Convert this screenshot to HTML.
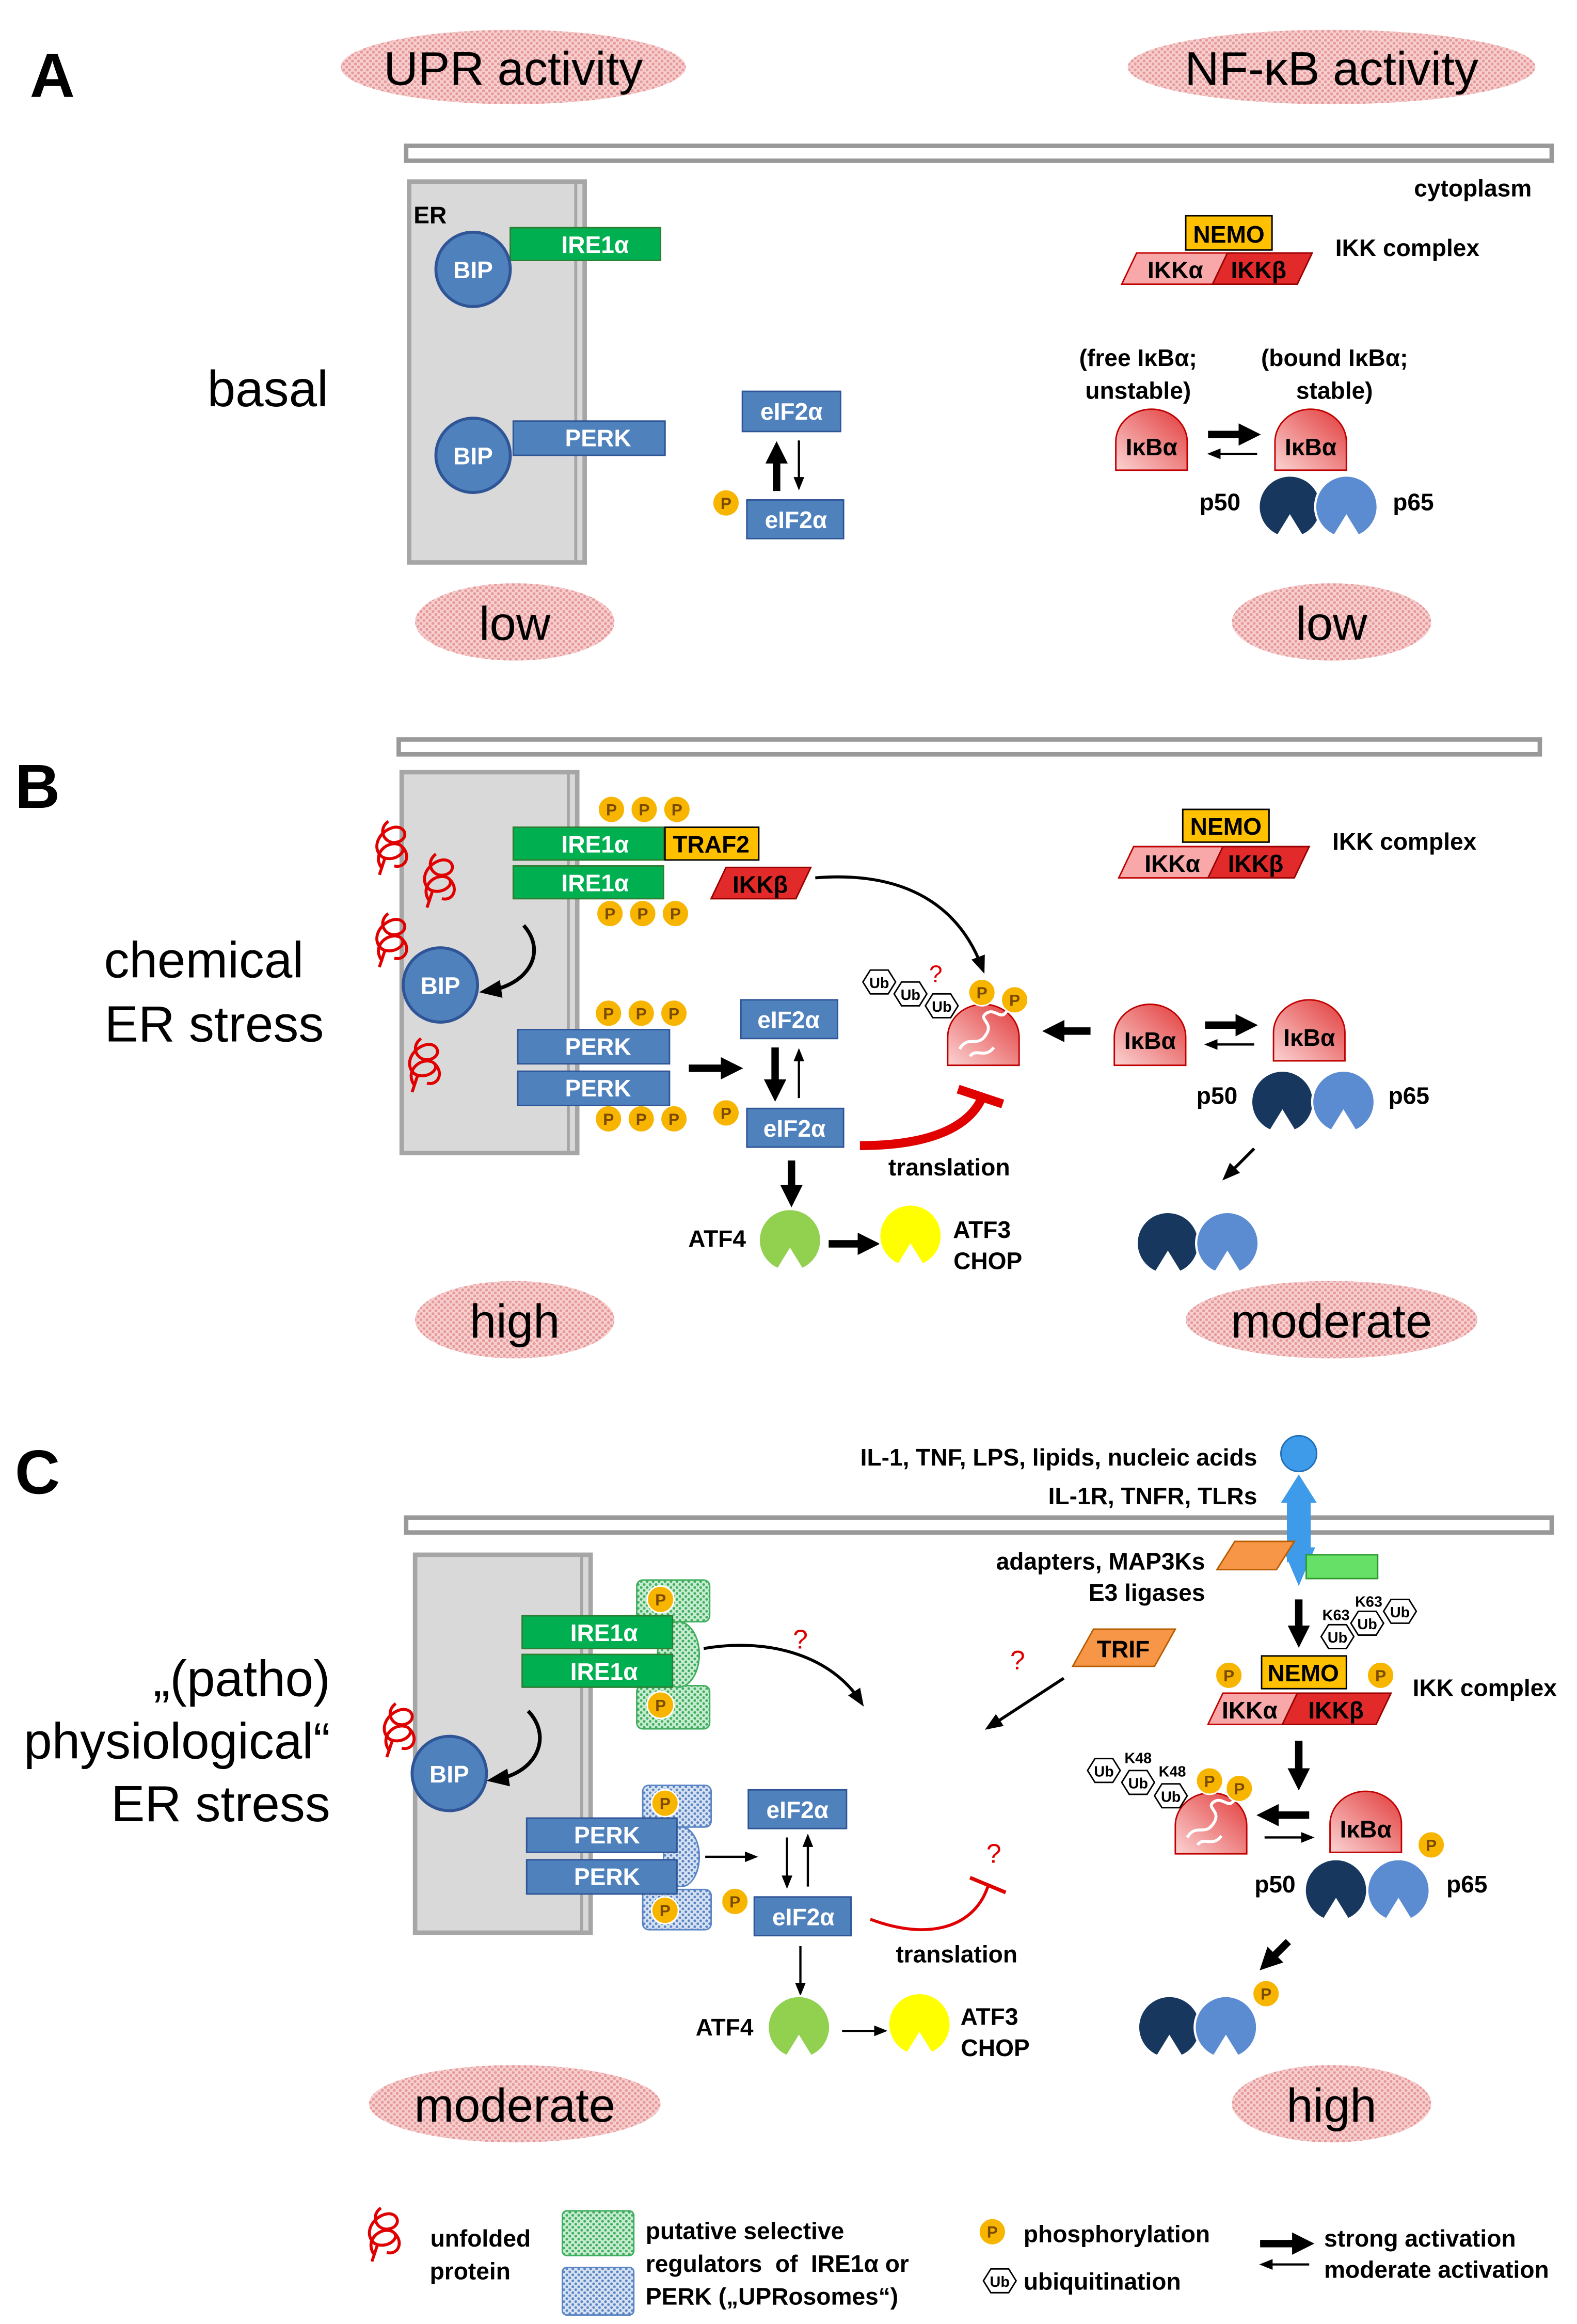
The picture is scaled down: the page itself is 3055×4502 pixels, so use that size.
<!DOCTYPE html>
<html><head><meta charset="utf-8">
<style>
html,body{margin:0;padding:0;background:#fff}
svg{display:block}
text{font-family:"Liberation Sans",Arial,sans-serif}
.b{font-weight:bold;font-size:16px}
.w{fill:#fff;font-weight:bold;font-size:16px}
.pt{font-weight:bold;font-size:11px;fill:#7a4a00}
.big{font-size:34px}
</style></head><body>
<svg width="3055" height="4502" viewBox="0 0 1060 1562" xmlns="http://www.w3.org/2000/svg">
<defs>
<pattern id="pk" width="4" height="4" patternUnits="userSpaceOnUse"><rect width="4" height="4" fill="#f6d0d0"/><circle cx="1" cy="1" r="1" fill="#e89a9a"/><circle cx="3" cy="3" r="1" fill="#e89a9a"/></pattern>
<pattern id="gd" width="4" height="4" patternUnits="userSpaceOnUse"><rect width="4" height="4" fill="#c8ecd2"/><circle cx="1" cy="1" r="0.9" fill="#3fae5e"/><circle cx="3" cy="3" r="0.9" fill="#3fae5e"/></pattern>
<pattern id="bd" width="4" height="4" patternUnits="userSpaceOnUse"><rect width="4" height="4" fill="#d6e2f2"/><circle cx="1" cy="1" r="0.9" fill="#5b85c4"/><circle cx="3" cy="3" r="0.9" fill="#5b85c4"/></pattern>
<linearGradient id="rg" x1="0" y1="1" x2="1" y2="0"><stop offset="0" stop-color="#fbd3d3"/><stop offset="1" stop-color="#e23a3a"/></linearGradient>
<marker id="ah" viewBox="0 0 10 10" refX="5" refY="5" markerWidth="3" markerHeight="3" orient="auto"><path d="M0,0 L10,5 L0,10 Z" fill="#000"/></marker>
<marker id="at" viewBox="0 0 10 10" refX="6" refY="5" markerWidth="6" markerHeight="6" orient="auto"><path d="M0,1 L10,5 L0,9 Z" fill="#000"/></marker>
<symbol id="pac" overflow="visible"><path d="M-8,20 A21,21 0 1 1 8,20 L0,7 Z" stroke="#fff" stroke-width="1.5"/></symbol>
<symbol id="dome" overflow="visible"><path d="M-24,19 L-24,0 A24,22 0 0 1 24,0 L24,19 Z" fill="url(#rg)" stroke="#c00000" stroke-width="1"/></symbol>
<symbol id="pc" overflow="visible"><circle r="9" fill="#f7b500" stroke="#fff" stroke-width="1"/></symbol>
<symbol id="ub" overflow="visible"><path d="M-11,0 L-6,-8 L6,-8 L11,0 L6,8 L-6,8 Z" fill="#fff" stroke="#000" stroke-width="1"/></symbol>
<symbol id="unf" overflow="visible"><path d="M-6,14 C-14,4 -2,-6 6,-2 C12,2 2,10 -6,6 C-14,0 -8,-12 2,-14 C10,-15 12,-6 4,-4 C-4,-2 -10,-12 -2,-18 M6,-2 C14,4 10,14 2,12 M-4,6 L-8,18" fill="none" stroke="#e00000" stroke-width="2"/></symbol>
</defs>

<!-- ===== Panel A ===== -->
<text x="20" y="65" font-size="42" font-weight="bold">A</text>
<ellipse cx="345" cy="45" rx="116" ry="25" fill="url(#pk)"/>
<text x="345" y="57" font-size="32" text-anchor="middle">UPR activity</text>
<ellipse cx="895" cy="45" rx="137" ry="25" fill="url(#pk)"/>
<text x="895" y="57" font-size="32" text-anchor="middle">NF-κB activity</text>
<rect x="273" y="98" width="770" height="10" fill="#fff" stroke="#999" stroke-width="3"/>
<rect x="275" y="122" width="118" height="256" fill="#d9d9d9" stroke="#a6a6a6" stroke-width="3"/>
<line x1="387" y1="122" x2="387" y2="378" stroke="#a6a6a6" stroke-width="2"/>
<text x="278" y="150" class="b">ER</text>
<rect x="343" y="153" width="101" height="22" fill="#00b050" stroke="#2e7d32"/>
<text x="400" y="170" class="w" text-anchor="middle">IRE1α</text>
<circle cx="318" cy="181" r="25" fill="#4f81bd" stroke="#2f5597" stroke-width="2"/>
<text x="318" y="187" class="w" text-anchor="middle">BIP</text>
<rect x="345" y="283" width="102" height="23" fill="#4f81bd" stroke="#2f5597"/>
<text x="402" y="300" class="w" text-anchor="middle">PERK</text>
<circle cx="318" cy="306" r="25" fill="#4f81bd" stroke="#2f5597" stroke-width="2"/>
<text x="318" y="312" class="w" text-anchor="middle">BIP</text>
<text x="180" y="273" font-size="34" text-anchor="middle">basal</text>
<rect x="499" y="263" width="66" height="27" fill="#4f81bd" stroke="#2f5597"/>
<text x="532" y="282" class="w" text-anchor="middle">eIF2α</text>
<rect x="502" y="336" width="65" height="26" fill="#4f81bd" stroke="#2f5597"/>
<text x="535" y="355" class="w" text-anchor="middle">eIF2α</text>
<use href="#pc" x="488" y="338"/><text x="488" y="342" class="pt" text-anchor="middle">P</text>
<line x1="522" y1="330" x2="522" y2="304" stroke="#000" stroke-width="5" marker-end="url(#ah)"/>
<line x1="537" y1="296" x2="537" y2="326" stroke="#000" stroke-width="1.5" marker-end="url(#at)"/>
<text x="990" y="132" class="b" text-anchor="middle">cytoplasm</text>
<rect x="797" y="145" width="58" height="23" fill="#ffc000" stroke="#000"/>
<text x="826" y="163" class="b" text-anchor="middle">NEMO</text>
<polygon points="764,170 830,170 820,191 754,191" fill="#f8a8a8" stroke="#c00000"/>
<text x="790" y="187" class="b" text-anchor="middle">IKKα</text>
<polygon points="825,170 882,170 872,191 815,191" fill="#e22a2a" stroke="#900"/>
<text x="846" y="187" class="b" text-anchor="middle">IKKβ</text>
<text x="946" y="172" class="b" text-anchor="middle">IKK complex</text>
<text x="765" y="246" class="b" text-anchor="middle">(free IκBα;</text>
<text x="765" y="268" class="b" text-anchor="middle">unstable)</text>
<text x="897" y="246" class="b" text-anchor="middle">(bound IκBα;</text>
<text x="897" y="268" class="b" text-anchor="middle">stable)</text>
<use href="#dome" x="774" y="297"/><text x="774" y="306" class="b" text-anchor="middle">IκBα</text>
<use href="#dome" x="881" y="297"/><text x="881" y="306" class="b" text-anchor="middle">IκBα</text>
<line x1="812" y1="292" x2="840" y2="292" stroke="#000" stroke-width="5" marker-end="url(#ah)"/>
<line x1="845" y1="305" x2="815" y2="305" stroke="#000" stroke-width="1.5" marker-end="url(#at)"/>
<use href="#pac" x="867" y="340" fill="#17375e"/>
<use href="#pac" x="905" y="340" fill="#5b8bd0"/>
<text x="820" y="343" class="b" text-anchor="middle">p50</text>
<text x="950" y="343" class="b" text-anchor="middle">p65</text>
<ellipse cx="346" cy="418" rx="67" ry="26" fill="url(#pk)"/>
<text x="346" y="430" font-size="32" text-anchor="middle">low</text>
<ellipse cx="895" cy="418" rx="67" ry="26" fill="url(#pk)"/>
<text x="895" y="430" font-size="32" text-anchor="middle">low</text>

<!-- ===== Panel B ===== -->
<text x="10" y="543" font-size="42" font-weight="bold">B</text>
<rect x="268" y="497" width="767" height="10" fill="#fff" stroke="#999" stroke-width="3"/>
<rect x="270" y="519" width="118" height="256" fill="#d9d9d9" stroke="#a6a6a6" stroke-width="3"/>
<line x1="382" y1="519" x2="382" y2="775" stroke="#a6a6a6" stroke-width="2"/>
<use href="#unf" x="263" y="570"/><use href="#unf" x="295" y="592"/><use href="#unf" x="263" y="632"/><use href="#unf" x="285" y="716"/>
<g>
<use href="#pc" x="411" y="544"/><use href="#pc" x="433" y="544"/><use href="#pc" x="455" y="544"/>
<use href="#pc" x="410" y="614"/><use href="#pc" x="432" y="614"/><use href="#pc" x="454" y="614"/>
<use href="#pc" x="409" y="681"/><use href="#pc" x="431" y="681"/><use href="#pc" x="453" y="681"/>
<use href="#pc" x="409" y="752"/><use href="#pc" x="431" y="752"/><use href="#pc" x="453" y="752"/>
<use href="#pc" x="488" y="748"/>
</g>
<g text-anchor="middle">
<text x="411" y="548" class="pt">P</text><text x="433" y="548" class="pt">P</text><text x="455" y="548" class="pt">P</text>
<text x="410" y="618" class="pt">P</text><text x="432" y="618" class="pt">P</text><text x="454" y="618" class="pt">P</text>
<text x="409" y="685" class="pt">P</text><text x="431" y="685" class="pt">P</text><text x="453" y="685" class="pt">P</text>
<text x="409" y="756" class="pt">P</text><text x="431" y="756" class="pt">P</text><text x="453" y="756" class="pt">P</text>
<text x="488" y="752" class="pt">P</text>
</g>
<rect x="345" y="556" width="101" height="22" fill="#00b050" stroke="#2e7d32"/>
<text x="400" y="573" class="w" text-anchor="middle">IRE1α</text>
<rect x="345" y="582" width="101" height="22" fill="#00b050" stroke="#2e7d32"/>
<text x="400" y="599" class="w" text-anchor="middle">IRE1α</text>
<rect x="447" y="556" width="63" height="22" fill="#ffc000" stroke="#000"/>
<text x="478" y="573" class="b" text-anchor="middle">TRAF2</text>
<polygon points="488,583 545,583 535,604 478,604" fill="#e22a2a" stroke="#900"/>
<text x="511" y="600" class="b" text-anchor="middle">IKKβ</text>
<path d="M548,590 C610,585 645,610 660,650" fill="none" stroke="#000" stroke-width="2" marker-end="url(#at)"/>
<circle cx="296" cy="662" r="25" fill="#4f81bd" stroke="#2f5597" stroke-width="2"/>
<text x="296" y="668" class="w" text-anchor="middle">BIP</text>
<path d="M352,622 C368,640 355,662 328,666" fill="none" stroke="#000" stroke-width="2.5" marker-end="url(#at)"/>
<text x="137" y="657" class="big" text-anchor="middle">chemical</text>
<text x="144" y="700" class="big" text-anchor="middle">ER stress</text>
<rect x="348" y="692" width="102" height="23" fill="#4f81bd" stroke="#2f5597"/>
<text x="402" y="709" class="w" text-anchor="middle">PERK</text>
<rect x="348" y="720" width="102" height="23" fill="#4f81bd" stroke="#2f5597"/>
<text x="402" y="737" class="w" text-anchor="middle">PERK</text>
<line x1="463" y1="718" x2="492" y2="718" stroke="#000" stroke-width="5" marker-end="url(#ah)"/>
<rect x="498" y="672" width="65" height="26" fill="#4f81bd" stroke="#2f5597"/>
<text x="530" y="691" class="w" text-anchor="middle">eIF2α</text>
<rect x="502" y="745" width="65" height="26" fill="#4f81bd" stroke="#2f5597"/>
<text x="534" y="764" class="w" text-anchor="middle">eIF2α</text>
<line x1="521" y1="704" x2="521" y2="733" stroke="#000" stroke-width="5" marker-end="url(#ah)"/>
<line x1="537" y1="738" x2="537" y2="708" stroke="#000" stroke-width="1.5" marker-end="url(#at)"/>
<use href="#dome" x="661" y="697" /><path d="M645,705 c6,-10 12,0 18,-10 c5,-8 -6,-10 0,-14 c6,-4 10,6 14,-2 M652,710 c4,-6 10,2 16,-6" fill="none" stroke="#fff" stroke-width="2"/>
<use href="#ub" x="591" y="660"/><use href="#ub" x="612" y="668"/><use href="#ub" x="633" y="676"/>
<text x="591" y="664" font-size="10" font-weight="bold" text-anchor="middle">Ub</text><text x="612" y="672" font-size="10" font-weight="bold" text-anchor="middle">Ub</text><text x="633" y="680" font-size="10" font-weight="bold" text-anchor="middle">Ub</text>
<use href="#pc" x="660" y="667"/><use href="#pc" x="682" y="672"/>
<text x="660" y="671" class="pt" text-anchor="middle">P</text><text x="682" y="676" class="pt" text-anchor="middle">P</text>
<text x="629" y="660" font-size="16" fill="#e00000" text-anchor="middle">?</text>
<line x1="733" y1="693" x2="708" y2="693" stroke="#000" stroke-width="5" marker-end="url(#ah)"/>
<use href="#dome" x="773" y="697"/><text x="773" y="705" class="b" text-anchor="middle">IκBα</text>
<use href="#dome" x="880" y="694"/><text x="880" y="703" class="b" text-anchor="middle">IκBα</text>
<line x1="810" y1="689" x2="838" y2="689" stroke="#000" stroke-width="5" marker-end="url(#ah)"/>
<line x1="843" y1="702" x2="813" y2="702" stroke="#000" stroke-width="1.5" marker-end="url(#at)"/>
<use href="#pac" x="862" y="740" fill="#17375e"/><use href="#pac" x="903" y="740" fill="#5b8bd0"/>
<text x="818" y="742" class="b" text-anchor="middle">p50</text><text x="947" y="742" class="b" text-anchor="middle">p65</text>
<line x1="843" y1="772" x2="825" y2="790" stroke="#000" stroke-width="2" marker-end="url(#at)"/>
<use href="#pac" x="785" y="835" fill="#17375e"/><use href="#pac" x="825" y="835" fill="#5b8bd0"/>
<path d="M578,770 C620,770 650,760 660,738" fill="none" stroke="#e00000" stroke-width="6"/>
<line x1="644" y1="732" x2="674" y2="742" stroke="#e00000" stroke-width="6"/>
<text x="638" y="790" class="b" text-anchor="middle">translation</text>
<line x1="532" y1="780" x2="532" y2="804" stroke="#000" stroke-width="5" marker-end="url(#ah)"/>
<text x="482" y="838" class="b" text-anchor="middle">ATF4</text>
<use href="#pac" x="531" y="833" fill="#92d050"/>
<line x1="557" y1="836" x2="584" y2="836" stroke="#000" stroke-width="5" marker-end="url(#ah)"/>
<use href="#pac" x="612" y="830" fill="#ffff00"/>
<text x="660" y="832" class="b" text-anchor="middle">ATF3</text><text x="664" y="853" class="b" text-anchor="middle">CHOP</text>
<rect x="795" y="544" width="58" height="22" fill="#ffc000" stroke="#000"/>
<text x="824" y="561" class="b" text-anchor="middle">NEMO</text>
<polygon points="762,569 826,569 816,590 752,590" fill="#f8a8a8" stroke="#c00000"/>
<text x="788" y="586" class="b" text-anchor="middle">IKKα</text>
<polygon points="822,569 880,569 870,590 812,590" fill="#e22a2a" stroke="#900"/>
<text x="844" y="586" class="b" text-anchor="middle">IKKβ</text>
<text x="944" y="571" class="b" text-anchor="middle">IKK complex</text>
<ellipse cx="346" cy="887" rx="67" ry="26" fill="url(#pk)"/>
<text x="346" y="899" font-size="32" text-anchor="middle">high</text>
<ellipse cx="895" cy="887" rx="98" ry="26" fill="url(#pk)"/>
<text x="895" y="899" font-size="32" text-anchor="middle">moderate</text>

<!-- ===== Panel C ===== -->
<text x="10" y="1004" font-size="42" font-weight="bold">C</text>
<rect x="273" y="1020" width="770" height="10" fill="#fff" stroke="#999" stroke-width="3"/>
<rect x="279" y="1045" width="118" height="254" fill="#d9d9d9" stroke="#a6a6a6" stroke-width="3"/>
<line x1="391" y1="1045" x2="391" y2="1299" stroke="#a6a6a6" stroke-width="2"/>
<text x="845" y="985" class="b" text-anchor="end">IL-1, TNF, LPS, lipids, nucleic acids</text>
<text x="845" y="1011" class="b" text-anchor="end">IL-1R, TNFR, TLRs</text>
<circle cx="873" cy="977" r="12" fill="#3d9be9" stroke="#1f6fb8"/>
<polygon points="873,991 885,1010 861,1010" fill="#3d9be9"/>
<rect x="865" y="1010" width="16" height="40" fill="#3d9be9"/>
<polygon points="862,1040 884,1040 873,1066" fill="#3d9be9"/>
<polygon points="830,1036 870,1036 858,1055 818,1055" fill="#f79646" stroke="#b85c00"/>
<rect x="878" y="1045" width="48" height="16" fill="#66e066" stroke="#2e9a2e"/>
<text x="810" y="1055" class="b" text-anchor="end">adapters, MAP3Ks</text>
<text x="810" y="1076" class="b" text-anchor="end">E3 ligases</text>
<line x1="873" y1="1075" x2="873" y2="1100" stroke="#000" stroke-width="5" marker-end="url(#ah)"/>
<use href="#ub" x="899" y="1100"/><use href="#ub" x="919" y="1091"/><use href="#ub" x="941" y="1083"/>
<text x="899" y="1104" font-size="10" font-weight="bold" text-anchor="middle">Ub</text><text x="919" y="1095" font-size="10" font-weight="bold" text-anchor="middle">Ub</text><text x="941" y="1087" font-size="10" font-weight="bold" text-anchor="middle">Ub</text>
<text x="898" y="1089" font-size="10" font-weight="bold" text-anchor="middle">K63</text><text x="920" y="1080" font-size="10" font-weight="bold" text-anchor="middle">K63</text>
<polygon points="735,1095 790,1095 776,1120 721,1120" fill="#f79646" stroke="#b85c00"/>
<text x="755" y="1114" class="b" text-anchor="middle">TRIF</text>
<text x="684" y="1122" font-size="18" fill="#e00000" text-anchor="middle">?</text>
<line x1="715" y1="1128" x2="666" y2="1160" stroke="#000" stroke-width="2" marker-end="url(#at)"/>
<rect x="848" y="1113" width="57" height="22" fill="#ffc000" stroke="#000"/>
<text x="876" y="1130" class="b" text-anchor="middle">NEMO</text>
<use href="#pc" x="826" y="1126"/><use href="#pc" x="928" y="1126"/>
<text x="826" y="1130" class="pt" text-anchor="middle">P</text><text x="928" y="1130" class="pt" text-anchor="middle">P</text>
<polygon points="822,1138 872,1138 862,1159 812,1159" fill="#f8a8a8" stroke="#c00000"/>
<text x="840" y="1155" class="b" text-anchor="middle">IKKα</text>
<polygon points="872,1138 935,1138 925,1159 862,1159" fill="#e22a2a" stroke="#900"/>
<text x="898" y="1155" class="b" text-anchor="middle">IKKβ</text>
<text x="998" y="1140" class="b" text-anchor="middle">IKK complex</text>
<line x1="873" y1="1170" x2="873" y2="1196" stroke="#000" stroke-width="5" marker-end="url(#ah)"/>
<use href="#dome" x="814" y="1227"/><path d="M798,1235 c6,-10 12,0 18,-10 c5,-8 -6,-10 0,-14 c6,-4 10,6 14,-2 M805,1240 c4,-6 10,2 16,-6" fill="none" stroke="#fff" stroke-width="2"/>
<use href="#ub" x="742" y="1190"/><use href="#ub" x="765" y="1198"/><use href="#ub" x="787" y="1207"/>
<text x="742" y="1194" font-size="10" font-weight="bold" text-anchor="middle">Ub</text><text x="765" y="1202" font-size="10" font-weight="bold" text-anchor="middle">Ub</text><text x="787" y="1211" font-size="10" font-weight="bold" text-anchor="middle">Ub</text>
<text x="765" y="1185" font-size="10" font-weight="bold" text-anchor="middle">K48</text><text x="788" y="1194" font-size="10" font-weight="bold" text-anchor="middle">K48</text>
<use href="#pc" x="813" y="1197"/><use href="#pc" x="833" y="1202"/>
<text x="813" y="1201" class="pt" text-anchor="middle">P</text><text x="833" y="1206" class="pt" text-anchor="middle">P</text>
<line x1="880" y1="1220" x2="852" y2="1220" stroke="#000" stroke-width="5" marker-end="url(#ah)"/>
<line x1="850" y1="1235" x2="880" y2="1235" stroke="#000" stroke-width="1.5" marker-end="url(#at)"/>
<use href="#dome" x="918" y="1226"/><text x="918" y="1235" class="b" text-anchor="middle">IκBα</text>
<use href="#pc" x="962" y="1240"/><text x="962" y="1244" class="pt" text-anchor="middle">P</text>
<use href="#pac" x="898" y="1270" fill="#17375e"/><use href="#pac" x="940" y="1270" fill="#5b8bd0"/>
<text x="857" y="1272" class="b" text-anchor="middle">p50</text><text x="986" y="1272" class="b" text-anchor="middle">p65</text>
<line x1="866" y1="1305" x2="852" y2="1319" stroke="#000" stroke-width="5" marker-end="url(#ah)"/>
<use href="#pac" x="786" y="1362" fill="#17375e"/><use href="#pac" x="824" y="1362" fill="#5b8bd0"/>
<use href="#pc" x="851" y="1340"/><text x="851" y="1344" class="pt" text-anchor="middle">P</text>
<rect x="428" y="1062" width="49" height="28" rx="4" fill="url(#gd)" stroke="#3fae5e"/>
<rect x="428" y="1133" width="49" height="29" rx="4" fill="url(#gd)" stroke="#3fae5e"/>
<ellipse cx="456" cy="1112" rx="14" ry="22" fill="url(#gd)" stroke="#3fae5e"/>
<rect x="351" y="1086" width="101" height="22" fill="#00b050" stroke="#2e7d32"/>
<text x="406" y="1103" class="w" text-anchor="middle">IRE1α</text>
<rect x="351" y="1112" width="101" height="22" fill="#00b050" stroke="#2e7d32"/>
<text x="406" y="1129" class="w" text-anchor="middle">IRE1α</text>
<use href="#pc" x="444" y="1075"/><use href="#pc" x="444" y="1146"/>
<text x="444" y="1079" class="pt" text-anchor="middle">P</text><text x="444" y="1150" class="pt" text-anchor="middle">P</text>
<path d="M473,1108 C520,1100 560,1115 578,1143" fill="none" stroke="#000" stroke-width="2" marker-end="url(#at)"/>
<text x="538" y="1108" font-size="18" fill="#e00000" text-anchor="middle">?</text>
<use href="#unf" x="268" y="1163"/>
<circle cx="302" cy="1192" r="25" fill="#4f81bd" stroke="#2f5597" stroke-width="2"/>
<text x="302" y="1198" class="w" text-anchor="middle">BIP</text>
<path d="M355,1150 C372,1168 360,1192 333,1196" fill="none" stroke="#000" stroke-width="2.5" marker-end="url(#at)"/>
<text x="222" y="1140" class="big" text-anchor="end">„(patho)</text>
<text x="222" y="1182" class="big" text-anchor="end">physiological“</text>
<text x="222" y="1224" class="big" text-anchor="end">ER stress</text>
<rect x="432" y="1200" width="46" height="28" rx="4" fill="url(#bd)" stroke="#5b85c4"/>
<rect x="432" y="1270" width="46" height="27" rx="4" fill="url(#bd)" stroke="#5b85c4"/>
<ellipse cx="458" cy="1248" rx="12" ry="20" fill="url(#bd)" stroke="#5b85c4"/>
<rect x="354" y="1222" width="101" height="23" fill="#4f81bd" stroke="#2f5597"/>
<text x="408" y="1239" class="w" text-anchor="middle">PERK</text>
<rect x="354" y="1250" width="101" height="23" fill="#4f81bd" stroke="#2f5597"/>
<text x="408" y="1267" class="w" text-anchor="middle">PERK</text>
<use href="#pc" x="447" y="1212"/><use href="#pc" x="447" y="1284"/><use href="#pc" x="494" y="1278"/>
<text x="447" y="1216" class="pt" text-anchor="middle">P</text><text x="447" y="1288" class="pt" text-anchor="middle">P</text><text x="494" y="1282" class="pt" text-anchor="middle">P</text>
<line x1="474" y1="1248" x2="506" y2="1248" stroke="#000" stroke-width="1.5" marker-end="url(#at)"/>
<rect x="503" y="1203" width="66" height="26" fill="#4f81bd" stroke="#2f5597"/>
<text x="536" y="1222" class="w" text-anchor="middle">eIF2α</text>
<rect x="507" y="1275" width="65" height="26" fill="#4f81bd" stroke="#2f5597"/>
<text x="540" y="1294" class="w" text-anchor="middle">eIF2α</text>
<line x1="529" y1="1235" x2="529" y2="1266" stroke="#000" stroke-width="1.5" marker-end="url(#at)"/>
<line x1="543" y1="1268" x2="543" y2="1236" stroke="#000" stroke-width="1.5" marker-end="url(#at)"/>
<path d="M585,1290 C625,1305 655,1295 664,1268" fill="none" stroke="#e00000" stroke-width="2"/>
<line x1="652" y1="1262" x2="676" y2="1272" stroke="#e00000" stroke-width="2.5"/>
<text x="668" y="1252" font-size="18" fill="#e00000" text-anchor="middle">?</text>
<text x="643" y="1319" class="b" text-anchor="middle">translation</text>
<line x1="538" y1="1308" x2="538" y2="1338" stroke="#000" stroke-width="1.5" marker-end="url(#at)"/>
<text x="487" y="1368" class="b" text-anchor="middle">ATF4</text>
<use href="#pac" x="537" y="1362" fill="#92d050"/>
<line x1="566" y1="1365" x2="593" y2="1365" stroke="#000" stroke-width="1.5" marker-end="url(#at)"/>
<use href="#pac" x="618" y="1360" fill="#ffff00"/>
<text x="665" y="1361" class="b" text-anchor="middle">ATF3</text><text x="669" y="1382" class="b" text-anchor="middle">CHOP</text>
<ellipse cx="346" cy="1414" rx="98" ry="26" fill="url(#pk)"/>
<text x="346" y="1426" font-size="32" text-anchor="middle">moderate</text>
<ellipse cx="895" cy="1414" rx="67" ry="26" fill="url(#pk)"/>
<text x="895" y="1426" font-size="32" text-anchor="middle">high</text>

<!-- ===== Legend ===== -->
<use href="#unf" x="258" y="1502"/>
<text x="323" y="1510" class="b" text-anchor="middle">unfolded</text>
<text x="316" y="1532" class="b" text-anchor="middle">protein</text>
<rect x="378" y="1486" width="48" height="30" rx="3" fill="url(#gd)" stroke="#3fae5e"/>
<rect x="378" y="1524" width="48" height="32" rx="3" fill="url(#bd)" stroke="#5b85c4"/>
<text x="434" y="1505" class="b">putative selective</text>
<text x="434" y="1527" class="b" xml:space="preserve">regulators  of  IRE1α or</text>
<text x="434" y="1549" class="b">PERK („UPRosomes“)</text>
<use href="#pc" x="667" y="1500"/><text x="667" y="1504" class="pt" text-anchor="middle">P</text>
<text x="688" y="1507" class="b">phosphorylation</text>
<use href="#ub" x="672" y="1533"/><text x="672" y="1537" font-size="10" font-weight="bold" text-anchor="middle">Ub</text>
<text x="688" y="1539" class="b">ubiquitination</text>
<line x1="847" y1="1508" x2="876" y2="1508" stroke="#000" stroke-width="5" marker-end="url(#ah)"/>
<line x1="880" y1="1522" x2="850" y2="1522" stroke="#000" stroke-width="1.5" marker-end="url(#at)"/>
<text x="890" y="1510" class="b">strong activation</text>
<text x="890" y="1531" class="b">moderate activation</text>
</svg>
</body></html>
